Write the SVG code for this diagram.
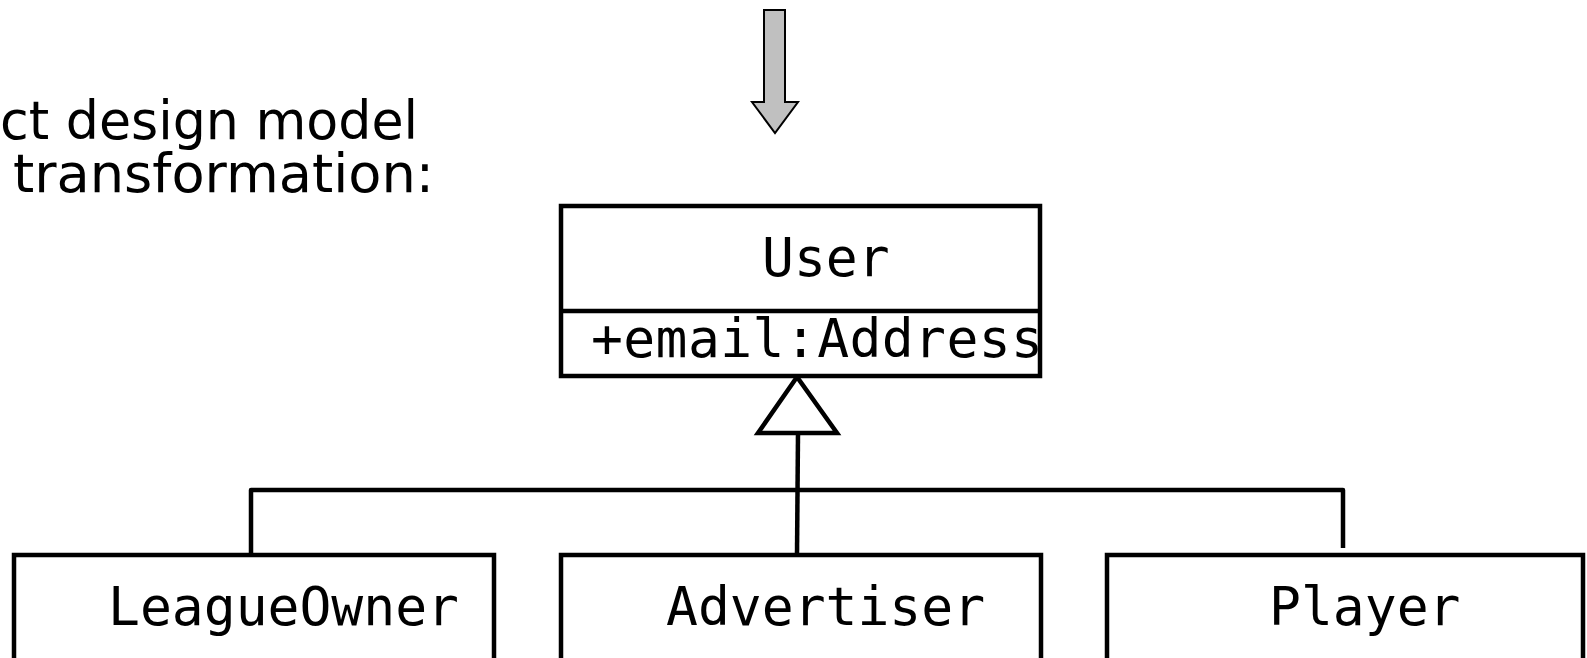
<svg xmlns="http://www.w3.org/2000/svg" width="1587" height="658" viewBox="0 0 1587 658">
<style>
.box{fill:#fff;stroke:#000;stroke-width:4.5}
.line{fill:none;stroke:#000;stroke-width:4.5;stroke-linejoin:round}
.mono{font-family:"DejaVu Sans Mono","Liberation Mono",monospace;font-size:53px;fill:#000}
.sans{font-family:"DejaVu Sans","Liberation Sans",sans-serif;font-size:54px;fill:#000}
</style>
<rect width="1587" height="658" fill="#fff"/>
<g id="caption">
<text class="sans" x="0" y="139" textLength="418" lengthAdjust="spacingAndGlyphs">ct design model</text>
<text class="sans" x="13" y="192" textLength="421" lengthAdjust="spacingAndGlyphs">transformation:</text>
</g>
<g id="arrow">
<polygon points="764,10 785,10 785,102 798,102 775,133 752,102 764,102" fill="#c0c0c0" stroke="#000" stroke-width="2"/>
</g>
<g id="connectors">
<path class="line" d="M251,555 V490 H1343 V548"/>
<path class="line" d="M798,433 L797,555"/>
<polygon class="box" points="797,377 758,433 837,433"/>
</g>
<g id="User">
<rect class="box" x="561" y="206" width="479" height="170"/>
<line class="line" x1="561" y1="311" x2="1040" y2="311"/>
<text class="mono" x="762" y="276">User</text>
<text class="mono" x="591" y="357" letter-spacing="0.4">+email:Address</text>
</g>
<g id="LeagueOwner">
<rect class="box" x="14" y="555" width="480" height="130"/>
<text class="mono" x="108" y="625">LeagueOwner</text>
</g>
<g id="Advertiser">
<rect class="box" x="561" y="555" width="480" height="130"/>
<text class="mono" x="666" y="625">Advertiser</text>
</g>
<g id="Player">
<rect class="box" x="1107" y="555" width="476" height="130"/>
<text class="mono" x="1269" y="625">Player</text>
</g>
</svg>
